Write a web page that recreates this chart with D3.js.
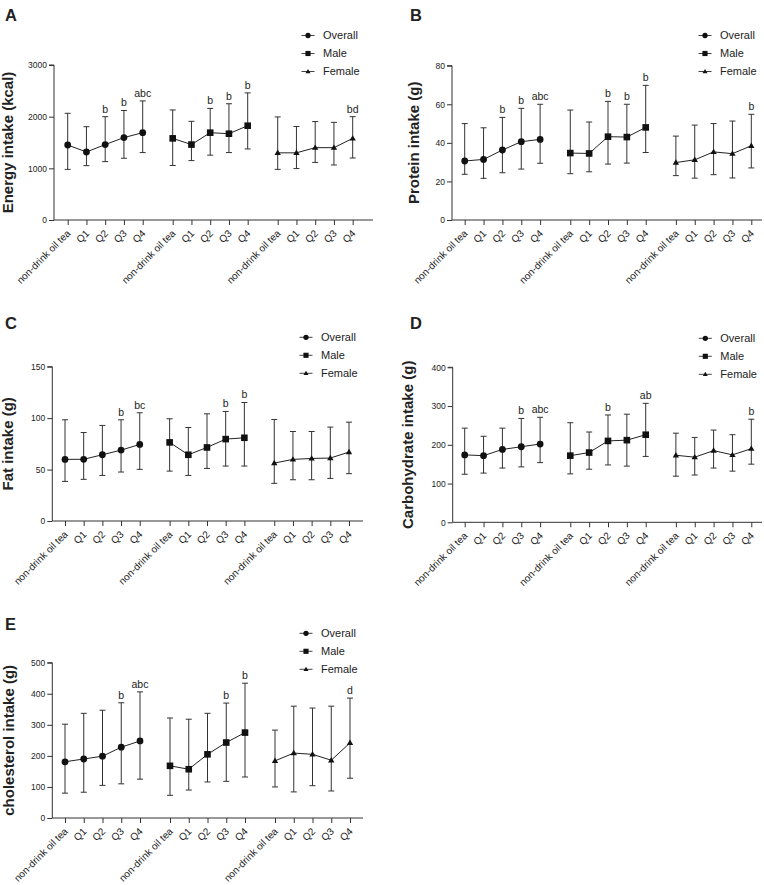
<!DOCTYPE html>
<html><head><meta charset="utf-8">
<script src="https://cdn.jsdelivr.net/npm/d3@7"></script>
<style>
body{margin:0;background:#fff;}
text{font-family:Arial,"Liberation Sans",Helvetica,sans-serif;fill:#222;}
</style>
</head><body>
<svg id="c" width="764" height="885"></svg>
<script>
const categories = ["non-drink oil tea","Q1","Q2","Q3","Q4"];
const groups = ["Overall","Male","Female"];

const energyTicks = [0,1000,2000,3000];
const energyMean  = [[1452,1316,1460,1595,1690],[1580,1460,1690,1670,1825],[1300,1300,1400,1400,1580]];
const energyUpper = [[2065,1806,2000,2120,2305],[2130,1910,2160,2250,2460],[1995,1810,1905,1890,2000]];
const energyLower = [[980,1052,1130,1195,1305],[1055,1150,1255,1305,1375],[980,995,1115,1065,1200]];
const energyAnn   = [["","","b","b","abc"],["","","b","b","b"],["","","","","bd"]];

const proteinTicks = [0,20,40,60,80];
const proteinMean  = [[30.6,31.4,36.3,40.6,41.8],[34.7,34.5,43.2,43,48],[29.8,31.2,35.3,34.4,38.5]];
const proteinUpper = [[50,47.8,53.2,57.9,60],[57,50.8,61.5,60,69.8],[43.5,49.2,50,51.3,54.8]];
const proteinLower = [[23.7,21.6,24.5,26.4,29.4],[24,25,29,29.5,35],[23,21.7,23.5,21.8,27]];
const proteinAnn   = [["","","b","b","abc"],["","","b","b","b"],["","","","","b"]];

const fatTicks = [0,50,100,150];
const fatMean  = [[59.9,60,64.4,68.9,74.4],[76.4,64.4,71.5,79.6,80.9],[56.3,59.9,60.8,61.2,67]];
const fatUpper = [[98.4,86,92.9,98.4,105.2],[99.4,90.9,104.2,106.5,115.2],[98.7,87,87,91.3,96.1]];
const fatLower = [[38.5,40.5,44.3,47.6,50.2],[48.5,44.3,51.1,53.4,53.4],[36.6,40.1,40.1,41.4,46]];
const fatAnn   = [["","","","b","bc"],["","","","b","b"],["","","","",""]];

const carbTicks = [0,100,200,300,400];
const carbMean  = [[174,172,188,195,202],[172,180,210,212,226],[173,168,185,174,190]];
const carbUpper = [[243,222,243,268,271],[257,233,277,279,307],[230,219,238,226,266]];
const carbLower = [[124,127,140,143,154],[125,137,148,145,170],[119,122,140,132,150]];
const carbAnn   = [["","","","b","abc"],["","","b","","ab"],["","","","","b"]];

const cholTicks = [0,100,200,300,400,500];
const cholMean  = [[181,190,199,228,248],[168,157,205,243,275],[184,209,205,186,242]];
const cholUpper = [[302,337,347,371,406],[322,318,337,370,434],[283,360,354,360,386]];
const cholLower = [[80,83,105,110,125],[73,90,116,118,132],[100,84,104,87,128]];
const cholAnn   = [["","","","b","abc"],["","","","b","b"],["","","","","d"]];

const panels = [
  {id:"A", title:"Energy intake (kcal)", mean:energyMean, upper:energyUpper, lower:energyLower, ticks:energyTicks, ann:energyAnn,
   ax:54, yTop:65, yBot:220, x0:67.7, x1:352.7, xEnd:373, lx:5, ly:21, tx:13, legX:308, legY:35.5},
  {id:"B", title:"Protein intake (g)", mean:proteinMean, upper:proteinUpper, lower:proteinLower, ticks:proteinTicks, ann:proteinAnn,
   ax:452, yTop:65.7, yBot:220, x0:464.7, x1:751.3, xEnd:762, lx:410, ly:21, tx:419, legX:705, legY:35.5},
  {id:"C", title:"Fat intake (g)", mean:fatMean, upper:fatUpper, lower:fatLower, ticks:fatTicks, ann:fatAnn,
   ax:52.3, yTop:366.7, yBot:521, x0:65, x1:349, xEnd:363, lx:5, ly:328.5, tx:13, legX:306, legY:337.3},
  {id:"D", title:"Carbohydrate intake (g)", mean:carbMean, upper:carbUpper, lower:carbLower, ticks:carbTicks, ann:carbAnn,
   ax:452.7, yTop:367.3, yBot:522.3, x0:464.7, x1:751.3, xEnd:762, lx:410, ly:328.5, tx:413, legX:705.3, legY:338.3},
  {id:"E", title:"cholesterol intake (g)", mean:cholMean, upper:cholUpper, lower:cholLower, ticks:cholTicks, ann:cholAnn,
   ax:52.3, yTop:662.7, yBot:818, x0:65, x1:350, xEnd:363, lx:5, ly:630, tx:14, legX:306, legY:633.3}
];

const groupGap = 5.6;
const svg = d3.select("#c");
const ink = "#333";

function marker(sel, gi, s) {
  if (gi === 0) {
    sel.append("circle").attr("r", 3.4*s).attr("fill", "#111");
  } else if (gi === 1) {
    sel.append("rect").attr("x", -3.3*s).attr("y", -3.3*s).attr("width", 6.6*s).attr("height", 6.6*s).attr("fill", "#111");
  } else {
    const w = 3.2*s, h = 5.4*s;
    sel.append("path").attr("d", `M0,${-h*0.6}L${w},${h*0.4}L${-w},${h*0.4}Z`).attr("fill", "#111");
  }
}

panels.forEach(p => {
  const g = svg.append("g");
  const yMax = p.ticks[p.ticks.length-1];
  const y = d3.scaleLinear().domain([0, yMax]).range([p.yBot, p.yTop]);
  const x = d3.scaleLinear().domain([0, 2*groupGap + 4]).range([p.x0, p.x1]);
  const pos = (gi, ci) => x(gi*groupGap + ci);

  const ya = g.append("g").attr("transform", `translate(${p.ax},0)`)
    .call(d3.axisLeft(y).tickValues(p.ticks).tickSize(5).tickPadding(2).tickFormat(d3.format("d")));
  ya.select(".domain").attr("stroke", ink).attr("d", `M-5,${p.yTop}H0V${p.yBot}`);
  ya.selectAll(".tick line").attr("stroke", ink);
  ya.selectAll(".tick text").attr("font-size", 8.5).attr("fill", "#222").style("font-family", "Arial,'Liberation Sans',sans-serif");

  const xvals = [];
  groups.forEach((gr, gi) => categories.forEach((c, ci) => xvals.push(gi*groupGap + ci)));
  const xa = g.append("g").attr("transform", `translate(0,${p.yBot})`)
    .call(d3.axisBottom(x).tickValues(xvals).tickSize(5)
      .tickFormat(v => categories[Math.round(v - Math.floor(v/groupGap + 1e-6)*groupGap)]));
  xa.select(".domain").attr("stroke", ink).attr("d", `M${p.ax},0H${p.xEnd}`);
  xa.selectAll(".tick line").attr("stroke", ink);
  xa.selectAll(".tick text")
    .attr("x", 0).attr("y", 0).attr("dy", 0)
    .attr("transform", "translate(3,14) rotate(-45)")
    .attr("text-anchor", "end")
    .attr("font-size", 10).attr("fill", "#222")
    .style("font-family", "Arial,'Liberation Sans',sans-serif");

  groups.forEach((gr, gi) => {
    const idx = d3.range(categories.length);
    const eb = g.append("g").attr("stroke", ink).attr("stroke-width", 1).attr("fill", "none");
    idx.forEach(ci => {
      const cx = pos(gi, ci);
      eb.append("line").attr("x1", cx).attr("x2", cx).attr("y1", y(p.lower[gi][ci])).attr("y2", y(p.upper[gi][ci]));
      eb.append("line").attr("x1", cx-3).attr("x2", cx+3).attr("y1", y(p.upper[gi][ci])).attr("y2", y(p.upper[gi][ci]));
      eb.append("line").attr("x1", cx-3).attr("x2", cx+3).attr("y1", y(p.lower[gi][ci])).attr("y2", y(p.lower[gi][ci]));
    });
    const line = d3.line().x(ci => pos(gi, ci)).y(ci => y(p.mean[gi][ci]));
    g.append("path").attr("d", line(idx)).attr("fill", "none").attr("stroke", "#222").attr("stroke-width", 1);
    idx.forEach(ci => {
      const m = g.append("g").attr("transform", `translate(${pos(gi, ci)},${y(p.mean[gi][ci])})`);
      marker(m, gi, 1);
    });
    idx.forEach(ci => {
      const t = p.ann[gi][ci];
      if (!t) return;
      g.append("text").attr("x", pos(gi, ci)).attr("y", y(p.upper[gi][ci]) - 4)
        .attr("text-anchor", "middle").attr("font-size", 10.5).text(t);
    });
  });

  groups.forEach((gr, gi) => {
    const ly = p.legY + gi*18;
    const lg = g.append("g").attr("transform", `translate(${p.legX},${ly})`);
    lg.append("line").attr("x1", -6.5).attr("x2", 6.5).attr("y1", 0).attr("y2", 0).attr("stroke", "#444").attr("stroke-width", 1);
    marker(lg, gi, 0.78);
    lg.append("text").attr("x", 15).attr("y", 0).attr("dy", "0.36em").attr("font-size", 11).text(gr);
  });

  g.append("text")
    .attr("transform", `translate(${p.tx},${(p.yTop + p.yBot)/2}) rotate(-90)`)
    .attr("text-anchor", "middle").attr("font-size", 15).attr("font-weight", "bold").attr("fill", "#111")
    .text(p.title);

  g.append("text").attr("x", p.lx).attr("y", p.ly).attr("font-size", 16.5).attr("font-weight", "bold").attr("fill", "#111").text(p.id);
});
</script>
</body></html>
